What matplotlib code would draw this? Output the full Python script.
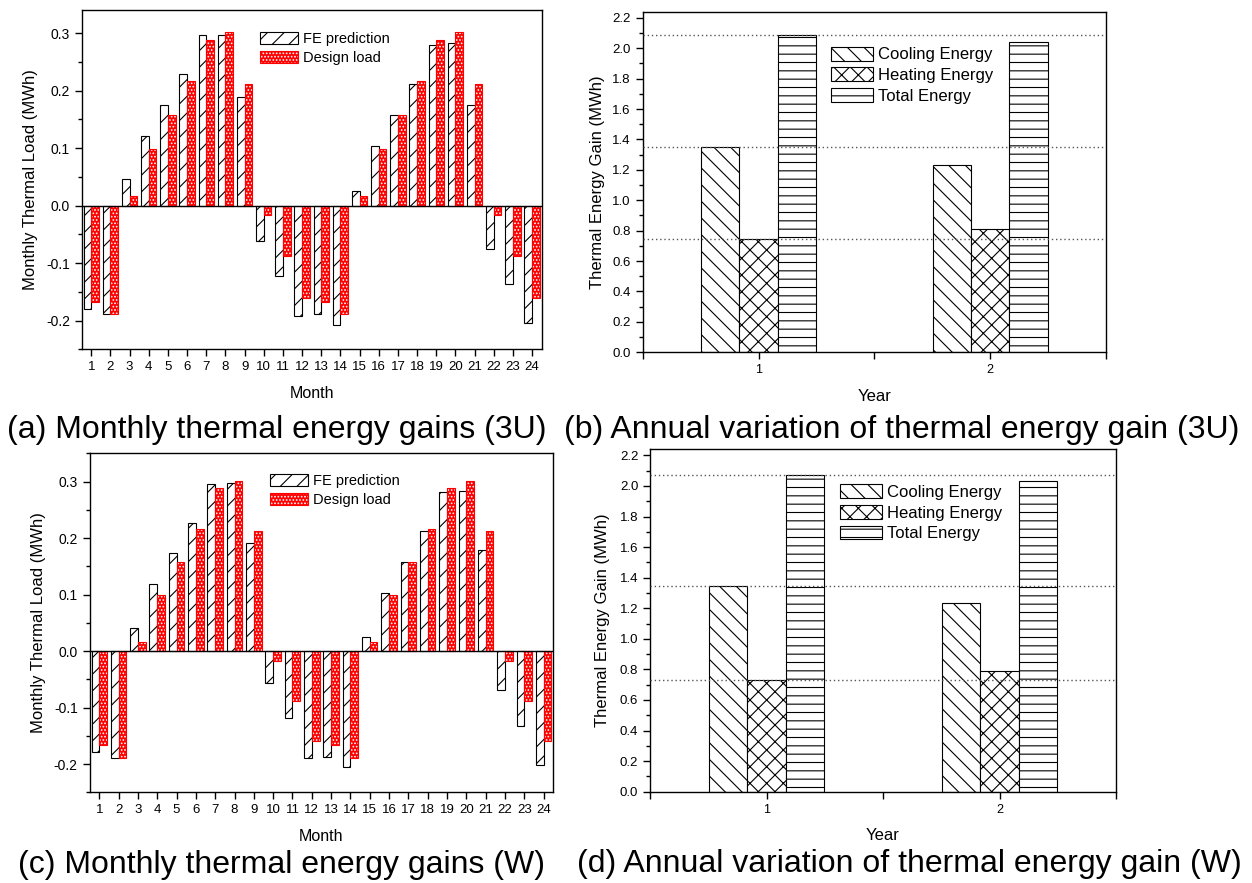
import numpy as np
import matplotlib
matplotlib.use('Agg')
import matplotlib.pyplot as plt
from matplotlib.ticker import MultipleLocator

plt.rcParams['font.family'] = ['Liberation Sans', 'DejaVu Sans']
plt.rcParams['hatch.linewidth'] = 0.8
plt.rcParams['axes.linewidth'] = 1.0

# ---- data ----
months = list(range(1, 25))

fe_3u = [-0.180, -0.189, 0.046, 0.121, 0.175, 0.229, 0.297, 0.297, 0.189, -0.062, -0.122, -0.192,
         -0.189, -0.208, 0.026, 0.103, 0.158, 0.212, 0.280, 0.282, 0.174, -0.075, -0.136, -0.204]
design_3u = [-0.167, -0.189, 0.016, 0.099, 0.158, 0.216, 0.288, 0.301, 0.212, -0.017, -0.088, -0.160,
             -0.167, -0.189, 0.016, 0.099, 0.158, 0.216, 0.288, 0.301, 0.212, -0.017, -0.088, -0.160]

fe_w = [-0.179, -0.189, 0.041, 0.118, 0.174, 0.226, 0.295, 0.297, 0.191, -0.056, -0.119, -0.189,
        -0.188, -0.206, 0.024, 0.102, 0.158, 0.212, 0.281, 0.283, 0.179, -0.069, -0.132, -0.201]
design_w = design_3u

years = [1, 2]
cooling_3u = [1.349, 1.233]
heating_3u = [0.743, 0.809]
total_3u = [2.090, 2.042]

cooling_w = [1.345, 1.236]
heating_w = [0.729, 0.792]
total_w = [2.074, 2.033]

monthly_legend = ['FE prediction', 'Design load']
annual_legend = ['Cooling Energy', 'Heating Energy', 'Total Energy']

captions = ['(a) Monthly thermal energy gains (3U)',
            '(b) Annual variation of thermal energy gain (3U)',
            '(c) Monthly thermal energy gains (W)',
            '(d) Annual variation of thermal energy gain (W)']

W, H = 1252, 883


def px_axes(fig, left, top, right, bottom):
    return fig.add_axes([left / W, 1 - bottom / H, (right - left) / W, (bottom - top) / H])


def monthly_panel(ax, fe, design, ytop, leg_xy, ylab_x):
    x = np.array(months)
    w = 0.4
    b1 = ax.bar(x - w / 2, fe, w, facecolor='white', edgecolor='black', hatch='//', lw=0.8, zorder=2)
    b2 = ax.bar(x + w / 2, design, w, facecolor='red', edgecolor='white', hatch='.....', lw=0, zorder=2)
    b3 = ax.bar(x + w / 2, design, w, fill=False, edgecolor='red', lw=0.8, zorder=3)
    ax.axhline(0, color='black', lw=1.0, zorder=4)
    ax.set_xlim(0.5, 24.5)
    ax.set_ylim(-0.25, ytop)
    ax.set_xticks(months)
    ax.set_xticklabels([str(m) for m in months], fontsize=9.5)
    ax.yaxis.set_minor_locator(MultipleLocator(0.05))
    ax.set_yticks([-0.2, -0.1, 0.0, 0.1, 0.2, 0.3])
    ax.set_yticklabels(['-0.2', '-0.1', '0.0', '0.1', '0.2', '0.3'], fontsize=10)
    ax.tick_params(direction='out', length=5, width=1.0, top=False, right=False)
    ax.tick_params(which='minor', direction='out', length=3, width=1.0)
    ax.set_xlabel('Month', fontsize=11.5, labelpad=9)
    ax.set_ylabel('Monthly Thermal Load (MWh)', fontsize=12)
    ax.yaxis.set_label_coords(ylab_x, 0.5)
    ax.legend([b1[0], (b2[0], b3[0])], monthly_legend, loc='upper left',
              bbox_to_anchor=leg_xy, frameon=False, fontsize=10.5, borderpad=0,
              borderaxespad=0, handlelength=2.6, handleheight=0.87,
              handletextpad=0.35, labelspacing=0.35)


def annual_panel(ax, cooling, heating, total, leg_xy, ylab_x):
    x = np.array(years)
    w = 0.165
    r1 = ax.bar(x - w, cooling, w, facecolor='white', edgecolor='black', hatch='\\\\', lw=0.8, zorder=2)
    r2 = ax.bar(x, heating, w, facecolor='white', edgecolor='black', hatch='xx', lw=0.8, zorder=2)
    r3 = ax.bar(x + w, total, w, facecolor='white', edgecolor='black', hatch='--', lw=0.8, zorder=2)
    # dotted reference lines at the first-year levels
    for v in (cooling[0], heating[0], total[0]):
        ax.axhline(v, color='#555555', ls=(0, (1, 2)), lw=1.0, zorder=4)
    ax.set_xlim(0.5, 2.5)
    ax.set_ylim(0, 2.24)
    ax.set_xticks([0.5, 1, 1.5, 2, 2.5])
    ax.set_xticklabels(['', '1', '', '2', ''], fontsize=9)
    ax.yaxis.set_minor_locator(MultipleLocator(0.1))
    ticks = np.arange(0, 2.21, 0.2)
    ax.set_yticks(ticks)
    ax.set_yticklabels(['%.1f' % v for v in ticks], fontsize=9.5)
    ax.tick_params(direction='out', length=5, width=1.0, top=False, right=False)
    ax.tick_params(which='minor', direction='out', length=3, width=1.0)
    ax.set_xlabel('Year', fontsize=12, labelpad=9)
    ax.set_ylabel('Thermal Energy Gain (MWh)', fontsize=12)
    ax.yaxis.set_label_coords(ylab_x, 0.5)
    ax.legend([r1[0], r2[0], r3[0]], annual_legend, loc='upper left',
              bbox_to_anchor=leg_xy, frameon=False, fontsize=12, borderpad=0,
              borderaxespad=0, handlelength=2.5, handleheight=0.9,
              handletextpad=0.3, labelspacing=0.3)


fig = plt.figure(figsize=(W / 100, H / 100), dpi=100)

ax_a = px_axes(fig, 81.7, 10, 541.7, 349.3)
monthly_panel(ax_a, fe_3u, design_3u, 0.34, (0.388, 0.935), -0.095)

ax_b = px_axes(fig, 642.7, 11.7, 1106, 352.3)
annual_panel(ax_b, cooling_3u, heating_3u, total_3u, (0.407, 0.897), -0.082)

ax_c = px_axes(fig, 89.6, 453.3, 553.3, 792.3)
monthly_panel(ax_c, fe_w, design_w, 0.35, (0.390, 0.938), -0.094)

ax_d = px_axes(fig, 650, 449.3, 1116, 791.7)
annual_panel(ax_d, cooling_w, heating_w, total_w, (0.408, 0.898), -0.086)

cap_pos = [(277, 438), (902, 438), (281, 873), (909, 872)]
for text, (cx, cy) in zip(captions, cap_pos):
    fig.text(cx / W, 1 - cy / H, text, ha='center', va='baseline', fontsize=23)

fig.savefig('out.png', dpi=100)
